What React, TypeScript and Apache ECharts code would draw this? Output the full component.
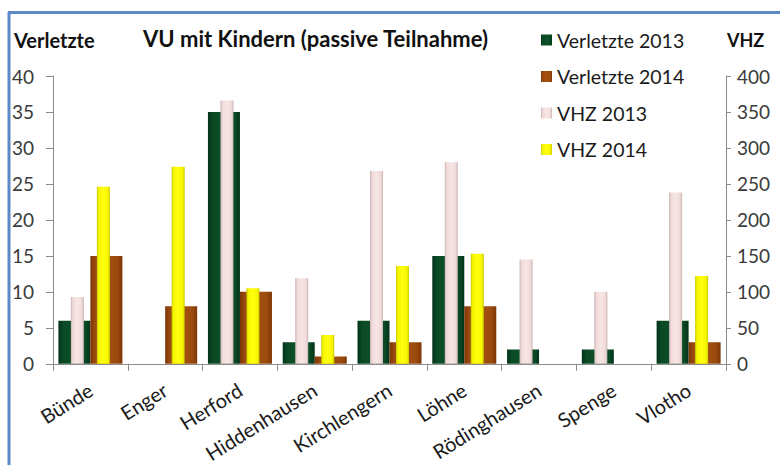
import React, { useEffect, useRef } from "react";
import * as echarts from "echarts";

const categories = ["Bünde", "Enger", "Herford", "Hiddenhausen", "Kirchlengern", "Löhne", "Rödinghausen", "Spenge", "Vlotho"];
const verletzte2013 = [6, null, 35, 3, 6, 15, 2, 2, 6];
const verletzte2014 = [15, 8, 10, 1, 3, 8, null, null, 3];
const vhz2013 = [93, null, 366, 119, 268, 280, 145, 100, 238];
const vhz2014 = [246, 274, 105, 40, 136, 153, null, null, 122];
const leftTicks = { min: 0, max: 40, interval: 5 };
const rightTicks = { min: 0, max: 400, interval: 50 };

const FONT = "Lato, 'Open Sans', sans-serif";

function grad(edge: string, mid: string, light: string) {
  return new echarts.graphic.LinearGradient(0, 0, 1, 0, [
    { offset: 0, color: edge },
    { offset: 0.15, color: mid },
    { offset: 0.5, color: light },
    { offset: 0.85, color: mid },
    { offset: 1, color: edge },
  ]);
}

export default function App() {
  const ref = useRef<HTMLDivElement>(null);
  useEffect(() => {
    if (!ref.current) return;
    const chart = echarts.init(ref.current, undefined, { renderer: "svg" });
    const green = grad("#03331a", "#0a4a24", "#0d5029");
    const orange = grad("#7a3505", "#9b4a0e", "#a4520f");
    const pink = grad("#c9b2b1", "#f0dad9", "#f6e6e5");
    const yellow = grad("#c8c800", "#f6f600", "#ffff10");
    chart.setOption({
      animation: false,
      backgroundColor: "#ffffff",
      grid: { left: 53, right: 54, top: 76, bottom: 99, containLabel: false },
      legend: {
        orient: "vertical",
        left: 541,
        top: 30,
        padding: 0,
        itemWidth: 11,
        itemHeight: 11,
        itemGap: 16.5,
        icon: "rect",
        textStyle: { fontFamily: FONT, fontSize: 19.5, color: "#1a1a1a", lineHeight: 20 },
        data: ["Verletzte 2013", "Verletzte 2014", "VHZ 2013", "VHZ 2014"],
      },
      xAxis: [
        {
          type: "category",
          data: categories,
          axisLine: { lineStyle: { color: "#8c8c8c", width: 1 } },
          axisTick: { show: true, length: 7, lineStyle: { color: "#8c8c8c" } },
          axisLabel: { interval: 0, rotate: 32, margin: 24, fontFamily: FONT, fontSize: 20, color: "#1a1a1a" },
        },
        { type: "category", data: categories, show: false },
      ],
      yAxis: [
        {
          type: "value",
          ...leftTicks,
          splitLine: { show: false },
          axisLine: { show: true, lineStyle: { color: "#8c8c8c" } },
          axisTick: { show: true, length: 7, lineStyle: { color: "#8c8c8c" } },
          axisLabel: { margin: 19, fontFamily: FONT, fontSize: 19, color: "#3a3a3a" },
        },
        {
          type: "value",
          position: "right",
          ...rightTicks,
          splitLine: { show: false },
          axisLine: { show: true, lineStyle: { color: "#8c8c8c" } },
          axisTick: { show: true, length: 5, lineStyle: { color: "#8c8c8c" } },
          axisLabel: { margin: 11, fontFamily: FONT, fontSize: 19, color: "#3a3a3a" },
        },
      ],
      series: [
        { name: "Verletzte 2013", type: "bar", xAxisIndex: 0, yAxisIndex: 0, data: verletzte2013, barWidth: 32, barGap: "0%", itemStyle: { color: green }, z: 2 },
        { name: "Verletzte 2014", type: "bar", xAxisIndex: 0, yAxisIndex: 0, data: verletzte2014, barWidth: 32, barGap: "0%", itemStyle: { color: orange }, z: 2 },
        { name: "VHZ 2013", type: "bar", xAxisIndex: 1, yAxisIndex: 1, data: vhz2013, barWidth: 13, barGap: "100%", itemStyle: { color: pink }, z: 3 },
        { name: "VHZ 2014", type: "bar", xAxisIndex: 1, yAxisIndex: 1, data: vhz2014, barWidth: 13, barGap: "100%", itemStyle: { color: yellow }, z: 3 },
      ],
      graphic: [
        { type: "line", shape: { x1: 9, y1: 12, x2: 9, y2: 465 }, style: { stroke: "#5b8ac6", lineWidth: 3 } },
        { type: "line", shape: { x1: 8, y1: 12.5, x2: 780, y2: 12.5 }, style: { stroke: "#5b8ac6", lineWidth: 3 } },
        { type: "text", left: 14, top: 30, style: { text: "Verletzte", font: `bold 20px ${FONT}`, fill: "#111" } },
        { type: "text", left: 143, top: 27, style: { text: "VU mit Kindern (passive Teilnahme)", font: `bold 22px ${FONT}`, fill: "#111" } },
        { type: "text", left: 727, top: 31, style: { text: "VHZ", font: `bold 18px ${FONT}`, fill: "#111" } },
      ],
    });
    return () => chart.dispose();
  }, []);
  return <div ref={ref} style={{ position: "fixed", left: 0, top: 0, width: 780, height: 465 }} />;
}
